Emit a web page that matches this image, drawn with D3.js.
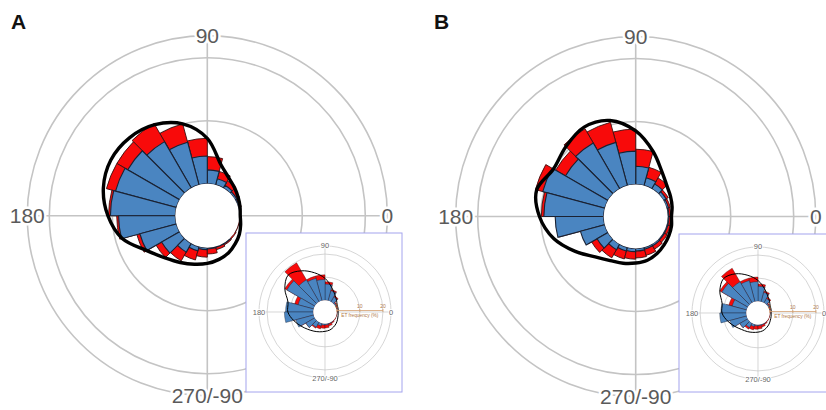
<!DOCTYPE html>
<html><head><meta charset="utf-8">
<script src="https://cdn.jsdelivr.net/npm/d3@7"></script>
<style>body{margin:0;background:#fff}svg{display:block}</style>
</head><body>
<svg id="chart" width="826" height="410"></svg>
<script>
// ---- data ----
const binStart = [0,15,30,45,60,75,90,105,120,135,150,165,180,195,210,225,240,255,270,285,300,315,330,345];
const binWidth = 15;
const axisLabels = ["0","90","180","270/-90"];
const axisLabelAngles = [0,90,180,270];
const ringValues = [10,20];
const maxValue = 23.5;
const etTicks = [0,10,20];
const etTitle = "ET frequency (%)";
const panelLabels = ["A","B"];

// Panel A main
const blueA = [0.1,0.2,0.3,0.5,1.0,2.2,4.4,7.0,8.5,9.5,10.0,10.3,9.0,6.0,3.3,1.6,0.7,0.3,0.2,0.1,0.1,0,0,0];
const redA  = [0.2,0.5,0.8,1.3,2.2,4.3,7.2,10.0,11.8,11.5,11.5,10.6,9.3,6.5,4.3,3.2,2.2,1.5,1.0,0.5,0.3,0.2,0.1,0.1];
const curveA = [0.15,0.3,0.6,1.1,1.8,3.3,7.2,10.0,11.6,12.4,12.6,12.0,10.7,8.9,6.0,4.4,3.5,2.9,2.5,2.1,1.7,1.2,0.8,0.4];

// Panel B main
const blueB = [0.2,0.3,0.5,0.9,1.3,2.9,5.3,7.1,8.4,7.8,10.2,9.5,7.7,4.0,2.0,1.0,0.6,0.5,0.4,0.3,0.3,0.2,0.2,0.2];
const redB  = [0.5,0.6,0.9,2.0,3.0,5.6,8.8,10.4,11.0,9.6,11.4,9.9,7.5,3.6,3.0,2.5,1.9,1.7,1.5,1.3,0.9,0.7,0.6,0.5];
const curveB = [0.6,0.9,1.3,1.9,3.2,5.6,8.5,10.7,11.3,10.6,10.0,11.2,10.2,8.4,6.0,4.0,3.0,2.6,2.3,2.1,1.7,1.3,1.0,0.8];

// Insets
const blueInsetA = [0,0.2,0.6,2.5,4.5,7.0,9.0,10.0,11.0,14.0,7.0,12.0,12.5,8.0,4.5,2.5,1.2,0.6,0.5,0.3,0.2,0,0,0];
const redInsetA  = [0.3,0.6,1.0,3.0,5.0,8.0,11.0,11.0,19.5,15.0,8.5,10.0,9.0,7.0,4.5,3.0,2.5,2.0,1.8,1.2,0.6,0.3,0.2,0.2];
const curveInsetA = [0.6,0.8,1.0,2.0,3.5,6.0,9.5,12.5,15.5,17.5,15.0,11.5,11.0,9.0,7.0,5.5,4.5,3.8,3.3,3.0,2.4,1.8,1.2,0.8];

const blueInsetB = [0,0.2,0.6,2.2,4.2,6.5,8.5,9.5,10.5,13.0,6.5,11.0,11.5,7.5,4.0,2.2,1.0,0.5,0.4,0.3,0.2,0,0,0];
const redInsetB  = [0.3,0.6,1.0,2.8,4.8,7.5,10.5,10.5,17.3,14.0,8.0,9.0,8.5,6.5,4.0,3.0,2.5,2.0,1.8,1.2,0.6,0.3,0.2,0.2];
const curveInsetB = [0.6,0.8,1.0,2.0,3.4,5.8,9.0,11.8,14.5,16.0,14.0,11.0,10.5,8.5,6.5,5.0,4.2,3.6,3.2,2.9,2.3,1.7,1.1,0.8];

// ---- drawing ----
const svg = d3.select("#chart");
const rScale = d3.scaleLinear().domain([0, 20]).range([32, 158]);
const toD3 = deg => Math.PI/2 - deg*Math.PI/180;
const FONT = "'Liberation Sans', Arial, Helvetica, sans-serif";

function drawPolar(cx, cy, k, blue, red, curve, inset) {
  const g = svg.append("g").attr("transform", `translate(${cx},${cy})`);
  const r = v => k * rScale(v);
  const R = r(maxValue);
  const gridW = inset ? 0.7 : 1.6;
  g.selectAll("circle.ring").data(ringValues.concat([maxValue])).join("circle")
    .attr("r", d => r(d)).attr("fill", "none")
    .attr("stroke", "#c4c4c4").attr("stroke-width", gridW);
  g.append("line").attr("x1", -R).attr("x2", R).attr("y1", 0).attr("y2", 0)
    .attr("stroke", "#c4c4c4").attr("stroke-width", gridW);
  g.append("line").attr("y1", -R).attr("y2", R).attr("x1", 0).attr("x2", 0)
    .attr("stroke", "#c4c4c4").attr("stroke-width", gridW);

  const arc = d3.arc();
  const mk = (vals) => binStart.map((a, i) => ({a, v: vals[i]})).filter(d => d.v > 0);
  const wedge = d => arc({innerRadius: r(0), outerRadius: r(d.v),
      startAngle: toD3(d.a + binWidth), endAngle: toD3(d.a)});
  g.selectAll("path.red").data(mk(red)).join("path").attr("class","red")
    .attr("d", wedge).attr("fill", "#f80a0a")
    .attr("stroke", "#3a1010").attr("stroke-width", inset ? 0.4 : 0.9);
  g.selectAll("path.blue").data(mk(blue)).join("path").attr("class","blue")
    .attr("d", wedge).attr("fill", "#4a85c1")
    .attr("stroke", "#1a2233").attr("stroke-width", inset ? 0.4 : 1.1);
  g.append("circle").attr("r", r(0)).attr("fill", "#fff");
  const line = d3.lineRadial()
    .angle(d => toD3(d.a)).radius(d => r(d.v))
    .curve(d3.curveCatmullRomClosed.alpha(0.5));
  g.append("path").datum(binStart.map((a, i) => ({a, v: curve[i]})))
    .attr("d", line).attr("fill", "none")
    .attr("stroke", "#000").attr("stroke-width", inset ? 1.0 : 3.4)
    .attr("stroke-linejoin", "round");

  const fs = inset ? 7.5 : 21;
  g.selectAll("text.ang").data(axisLabels).join("text")
    .attr("x", (d, i) => R * Math.cos(axisLabelAngles[i]*Math.PI/180))
    .attr("y", (d, i) => -R * Math.sin(axisLabelAngles[i]*Math.PI/180))
    .attr("text-anchor", "middle").attr("dominant-baseline", "central")
    .attr("font-family", FONT).attr("font-size", fs)
    .attr("fill", inset ? "#666" : "#5a5a5a")
    .attr("stroke", "#fff").attr("stroke-width", inset ? 2 : 5)
    .attr("paint-order", "stroke")
    .text(d => d);

  if (inset) {
    const col = "#d4a070";
    const ax = g.append("g").attr("transform", "translate(0,-1.5)");
    ax.append("line").attr("x1", r(0)).attr("x2", r(20)).attr("y1", 0).attr("y2", 0)
      .attr("stroke", col).attr("stroke-width", 0.8);
    ax.selectAll("line.tk").data(etTicks).join("line")
      .attr("x1", d => r(d)).attr("x2", d => r(d)).attr("y1", -1.5).attr("y2", 1.5)
      .attr("stroke", col).attr("stroke-width", 0.8);
    ax.selectAll("text.tk").data(etTicks).join("text")
      .attr("x", d => r(d)).attr("y", -3)
      .attr("text-anchor", "middle").attr("font-family", FONT).attr("font-size", 5)
      .attr("fill", "#b07a48").text(d => d);
    ax.append("text").attr("x", (r(0) + r(20)) / 2).attr("y", 6)
      .attr("text-anchor", "middle").attr("font-family", FONT).attr("font-size", 4.8)
      .attr("fill", "#b07a48").text(etTitle);
  }
}

function insetBox(x, y, w, h) {
  svg.append("rect").attr("x", x).attr("y", y).attr("width", w).attr("height", h)
    .attr("fill", "#fff").attr("stroke", "#a4a4ee").attr("stroke-width", 1);
}

const k = 66 / 180;
// Panel A
drawPolar(207.3, 215.7, 1, blueA, redA, curveA, false);
insetBox(246, 233, 156, 159);
drawPolar(325, 312, k, blueInsetA, redInsetA, curveInsetA, true);
// Panel B
drawPolar(635.7, 216.5, 1, blueB, redB, curveB, false);
insetBox(679, 234, 156, 158);
drawPolar(758, 313, k, blueInsetB, redInsetB, curveInsetB, true);

// panel letters
svg.selectAll("text.panel").data(panelLabels).join("text")
  .attr("x", (d, i) => i === 0 ? 11 : 434).attr("y", 29)
  .attr("font-family", FONT).attr("font-weight", "bold").attr("font-size", 21)
  .attr("fill", "#111").text(d => d);
</script>
</body></html>
